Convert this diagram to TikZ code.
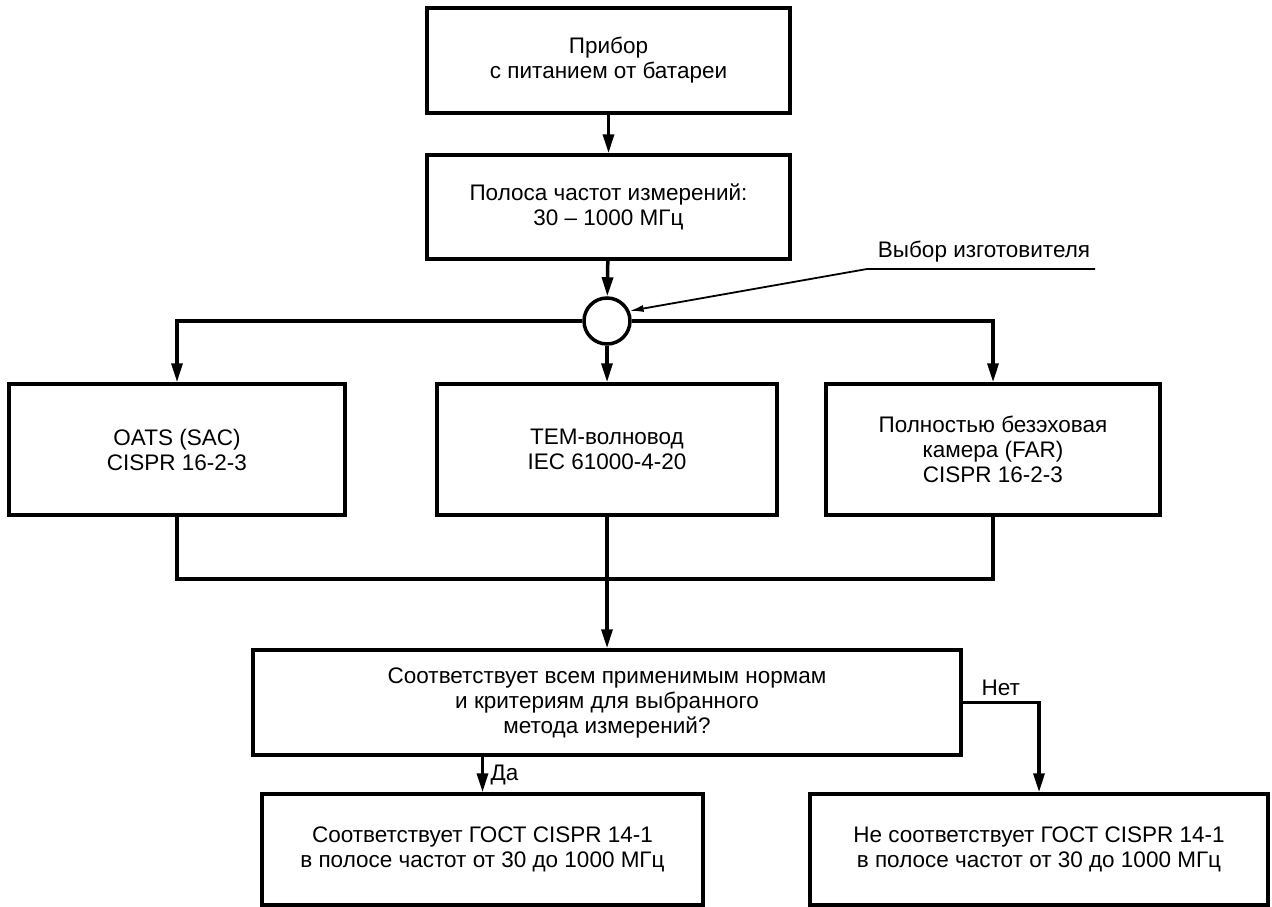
\documentclass[tikz,border=0pt]{standalone}
\usepackage{fontspec}
\setmainfont{Liberation Sans}
\usetikzlibrary{arrows.meta,calc}
\tikzset{
  box/.style={draw,line width=3.5pt,align=center,inner sep=2pt,
    font=\fontsize{22.5}{25}\selectfont},
  arr/.style={line width=3.5pt,-{Triangle[length=19pt,width=11pt]}},
  link/.style={line width=3.5pt},
  lbl/.style={font=\fontsize{22.5}{25}\selectfont}
}
\begin{document}
\begin{tikzpicture}[x=1pt,y=-1pt]
  \useasboundingbox (0,0) rectangle (1272,907);
  \node[box,minimum width=363pt,minimum height=105pt] (dev) at (608.5,60.5)
    {Прибор\\с питанием от батареи};
  \node[box,minimum width=363pt,minimum height=104pt] (band) at (608.5,207)
    {Полоса частот измерений:\\30 -- 1000 МГц};
  \node[draw,circle,line width=3.5pt,minimum size=46pt,inner sep=0pt] (sel) at (607,321) {};
  \node[box,minimum width=336pt,minimum height=131pt] (oats) at (177,449.5)
    {OATS (SAC)\\CISPR 16-2-3};
  \node[box,minimum width=340pt,minimum height=131pt] (tem) at (607,449.5)
    {TEM-волновод\\IEC 61000-4-20};
  \node[box,minimum width=334pt,minimum height=131pt] (far) at (993,449.5)
    {Полностью безэховая\\камера (FAR)\\CISPR 16-2-3};
  \node[box,minimum width=708pt,minimum height=105pt] (check) at (607,702.5)
    {Соответствует всем применимым нормам\\и критериям для выбранного\\метода измерений?};
  \node[box,minimum width=441pt,minimum height=111pt] (yes) at (482.5,849.5)
    {Соответствует ГОСТ CISPR 14-1\\в полосе частот от 30 до 1000 МГц};
  \node[box,minimum width=458pt,minimum height=111pt] (no) at (1039,849.5)
    {Не соответствует ГОСТ CISPR 14-1\\в полосе частот от 30 до 1000 МГц};
  \node[lbl,anchor=base] (mfr) at (984,257) {Выбор изготовителя};
  \coordinate (ulend) at (1095,269);
  \coordinate (ulbend) at (867,269);
  \coordinate (join) at (607,579);
  % connectors
  \draw[arr] (dev) -- (band);
  \draw[arr] (band) -- (sel);
  \draw[arr] (sel.west) -| (oats.north);
  \draw[arr] (sel.east) -| (far.north);
  \draw[arr] (sel) -- (tem);
  \draw[line width=1.8pt,-{Latex[length=14pt,width=7pt]}] (ulend) -- (ulbend) -- (sel.24);
  \draw[link] (oats.south) |- (join) -| (far.south);
  \draw[arr] (tem) -- (check);
  \draw[arr] (yes.north |- check.south) -- (yes.north)
    node[lbl,midway,right=3pt] {Да};
  \draw[arr] (check.east) -| (no.north) node[lbl,pos=0.25,above=2pt] {Нет};
\end{tikzpicture}
\end{document}
